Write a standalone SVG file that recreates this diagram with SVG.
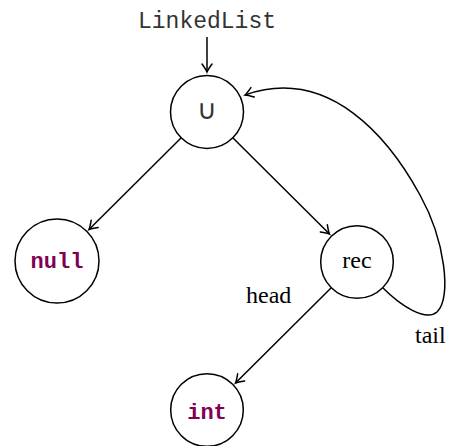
<svg xmlns="http://www.w3.org/2000/svg" width="453" height="446" viewBox="0 0 453 446">
  <style>
    .node circle { fill: #fff; stroke: #000; stroke-width: 1.5; }
    .edge { fill: none; stroke: #000; stroke-width: 1.5; marker-end: url(#arr); }
    .kw { font-family: "Liberation Mono", monospace; font-weight: bold; font-size: 22px; fill: #7f0055; text-anchor: middle; }
    .lbl { font-family: "Liberation Serif", serif; font-size: 24px; fill: #000; }
    .tt { font-family: "Liberation Mono", monospace; font-size: 23px; fill: #333; }
  </style>
  <defs>
    <marker id="arr" markerWidth="14" markerHeight="14" refX="0" refY="0" viewBox="-9 -7 11 14" markerUnits="userSpaceOnUse" orient="auto">
      <path d="M-8,-5 Q-2.5,-1 0,0 Q-2.5,1 -8,5" fill="none" stroke="#000" stroke-width="1.5" stroke-linecap="round"/>
    </marker>
  </defs>

  <text class="tt" x="207" y="28" text-anchor="middle">LinkedList</text>

  <g id="connectors">
    <line class="edge" x1="207" y1="37" x2="207" y2="72"/>
    <line class="edge" x1="181.5" y1="137.5" x2="89" y2="229.5"/>
    <line class="edge" x1="232.5" y1="137.5" x2="329.5" y2="234"/>
    <line class="edge" x1="331" y1="288" x2="235.5" y2="383"/>
    <path class="edge" d="M383,288 C400,305 425,322 437,312 C452,298 445,240 420,195 C390,140 330,65 245,95"/>
  </g>

  <g id="union" class="node">
    <circle cx="207" cy="112" r="36.5"/>
    <text x="207" y="119" font-family="DejaVu Sans, sans-serif" font-size="27" font-weight="300" fill="#333" text-anchor="middle">∪</text>
  </g>
  <g id="null" class="node">
    <circle cx="57" cy="261" r="42"/>
    <text class="kw" x="57" y="268">null</text>
  </g>
  <g id="rec" class="node">
    <circle cx="357" cy="262" r="36.3"/>
    <text class="lbl" x="357" y="268" text-anchor="middle">rec</text>
  </g>
  <g id="int" class="node">
    <circle cx="207" cy="410" r="36.3"/>
    <text class="kw" x="207" y="419">int</text>
  </g>

  <text class="lbl" x="246" y="303">head</text>
  <text class="lbl" x="415" y="343">tail</text>
</svg>
